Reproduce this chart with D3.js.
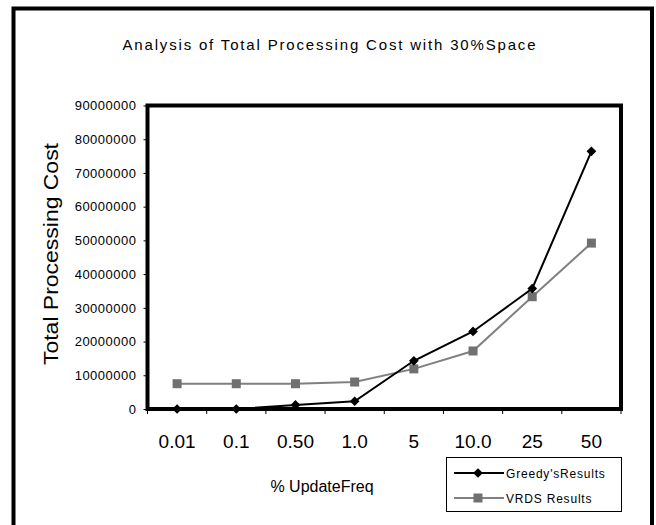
<!DOCTYPE html>
<html>
<head>
<meta charset="utf-8">
<script src="https://cdn.jsdelivr.net/npm/d3@7"></script>
<style>
  body { margin: 0; background: #fff; }
  text { font-family: "Liberation Sans", Arial, sans-serif; fill: #000; }
</style>
</head>
<body>
<svg width="656" height="525"></svg>
<script>
// data
const categories = ["0.01", "0.1", "0.50", "1.0", "5", "10.0", "25", "50"];
const greedy = [0, 0, 1200000, 2300000, 14300000, 23000000, 35700000, 76400000];
const vrds = [7500000, 7500000, 7500000, 8000000, 11900000, 17200000, 33300000, 49200000];
const yTicks = [0, 10000000, 20000000, 30000000, 40000000, 50000000, 60000000, 70000000, 80000000, 90000000];

const svg = d3.select("svg");

// outer frame
svg.append("rect")
    .attr("x", 13.5).attr("y", 8.5)
    .attr("width", 638.5).attr("height", 530)
    .attr("fill", "none").attr("stroke", "#000").attr("stroke-width", 4);

const plot = {left: 147.5, right: 621, top: 105.5, bottom: 409};

const x = d3.scaleBand()
    .domain(categories)
    .range([plot.left, plot.right]);

const y = d3.scaleLinear()
    .domain([0, 90000000])
    .range([plot.bottom, plot.top]);

// title
svg.append("text")
    .attr("x", 329).attr("y", 50)
    .attr("text-anchor", "middle")
    .style("font-size", "15px")
    .attr("textLength", 413).attr("lengthAdjust", "spacing")
    .text("Analysis of Total Processing Cost with 30%Space");

// y axis
const yAxis = svg.append("g")
    .attr("transform", `translate(${plot.left},0)`)
    .call(d3.axisLeft(y).tickValues(yTicks).tickSize(4).tickPadding(7).tickFormat(d3.format("d")));
yAxis.select(".domain").remove();
yAxis.selectAll("line").attr("stroke", "#000");
yAxis.selectAll("text")
    .attr("font-family", null)
    .style("font-size", "13px")
    .style("letter-spacing", "0.5px");

// x axis ticks at category boundaries
const xAxis = svg.append("g")
    .attr("transform", `translate(0,${plot.bottom})`);
xAxis.selectAll("line")
    .data(categories.concat([null]))
    .join("line")
    .attr("x1", (d, i) => plot.left + i * x.bandwidth())
    .attr("x2", (d, i) => plot.left + i * x.bandwidth())
    .attr("y1", 0).attr("y2", 5)
    .attr("stroke", "#000");
xAxis.selectAll("text")
    .data(categories)
    .join("text")
    .attr("x", d => x(d) + x.bandwidth() / 2)
    .attr("y", 39)
    .attr("text-anchor", "middle")
    .style("font-size", "19px")
    .text(d => d);

// axis titles
svg.append("text")
    .attr("x", 322).attr("y", 492)
    .attr("text-anchor", "middle")
    .style("font-size", "16px")
    .text("% UpdateFreq");

svg.append("text")
    .attr("transform", "translate(58,254) rotate(-90)")
    .attr("text-anchor", "middle")
    .style("font-size", "21px")
    .attr("textLength", 222).attr("lengthAdjust", "spacingAndGlyphs")
    .text("Total Processing Cost");

// plot frame
svg.append("rect")
    .attr("x", plot.left).attr("y", plot.top)
    .attr("width", plot.right - plot.left).attr("height", plot.bottom - plot.top)
    .attr("fill", "none").attr("stroke", "#000").attr("stroke-width", 4);

const cx = d => x(d) + x.bandwidth() / 2;
const line = d3.line()
    .x((d, i) => cx(categories[i]))
    .y(d => y(d));

const diamond = d3.symbol().type(d3.symbolDiamond2).size(60);

// VRDS series
svg.append("path")
    .datum(vrds)
    .attr("d", line)
    .attr("fill", "none").attr("stroke", "#808080").attr("stroke-width", 2);
svg.append("g").selectAll("rect")
    .data(vrds)
    .join("rect")
    .attr("x", (d, i) => cx(categories[i]) - 4.5)
    .attr("y", d => y(d) - 4.5)
    .attr("width", 9).attr("height", 9)
    .attr("fill", "#707070");

// Greedy series
svg.append("path")
    .datum(greedy)
    .attr("d", line)
    .attr("fill", "none").attr("stroke", "#000").attr("stroke-width", 2);
svg.append("g").selectAll("path")
    .data(greedy)
    .join("path")
    .attr("transform", (d, i) => `translate(${cx(categories[i])},${y(d)})`)
    .attr("d", diamond)
    .attr("fill", "#000");

// legend
const legend = svg.append("g");
legend.append("rect")
    .attr("x", 446.5).attr("y", 457.5)
    .attr("width", 175).attr("height", 54)
    .attr("fill", "#fff").attr("stroke", "#000").attr("stroke-width", 1);

const legendItems = [
  {name: "Greedy'sResults", color: "#000", mark: "diamond", y: 473},
  {name: "VRDS Results", color: "#808080", mark: "square", y: 498}
];
legendItems.forEach(it => {
  legend.append("line")
      .attr("x1", 454).attr("x2", 504)
      .attr("y1", it.y).attr("y2", it.y)
      .attr("stroke", it.color).attr("stroke-width", 2);
  if (it.mark === "diamond") {
    legend.append("path")
        .attr("transform", `translate(478,${it.y})`)
        .attr("d", diamond).attr("fill", "#000");
  } else {
    legend.append("rect")
        .attr("x", 473.5).attr("y", it.y - 4.5)
        .attr("width", 9).attr("height", 9)
        .attr("fill", "#707070");
  }
  legend.append("text")
      .attr("x", 506).attr("y", it.y + 4.5)
      .style("font-size", "12px")
      .style("letter-spacing", "0.8px")
      .text(it.name);
});
</script>
</body>
</html>
